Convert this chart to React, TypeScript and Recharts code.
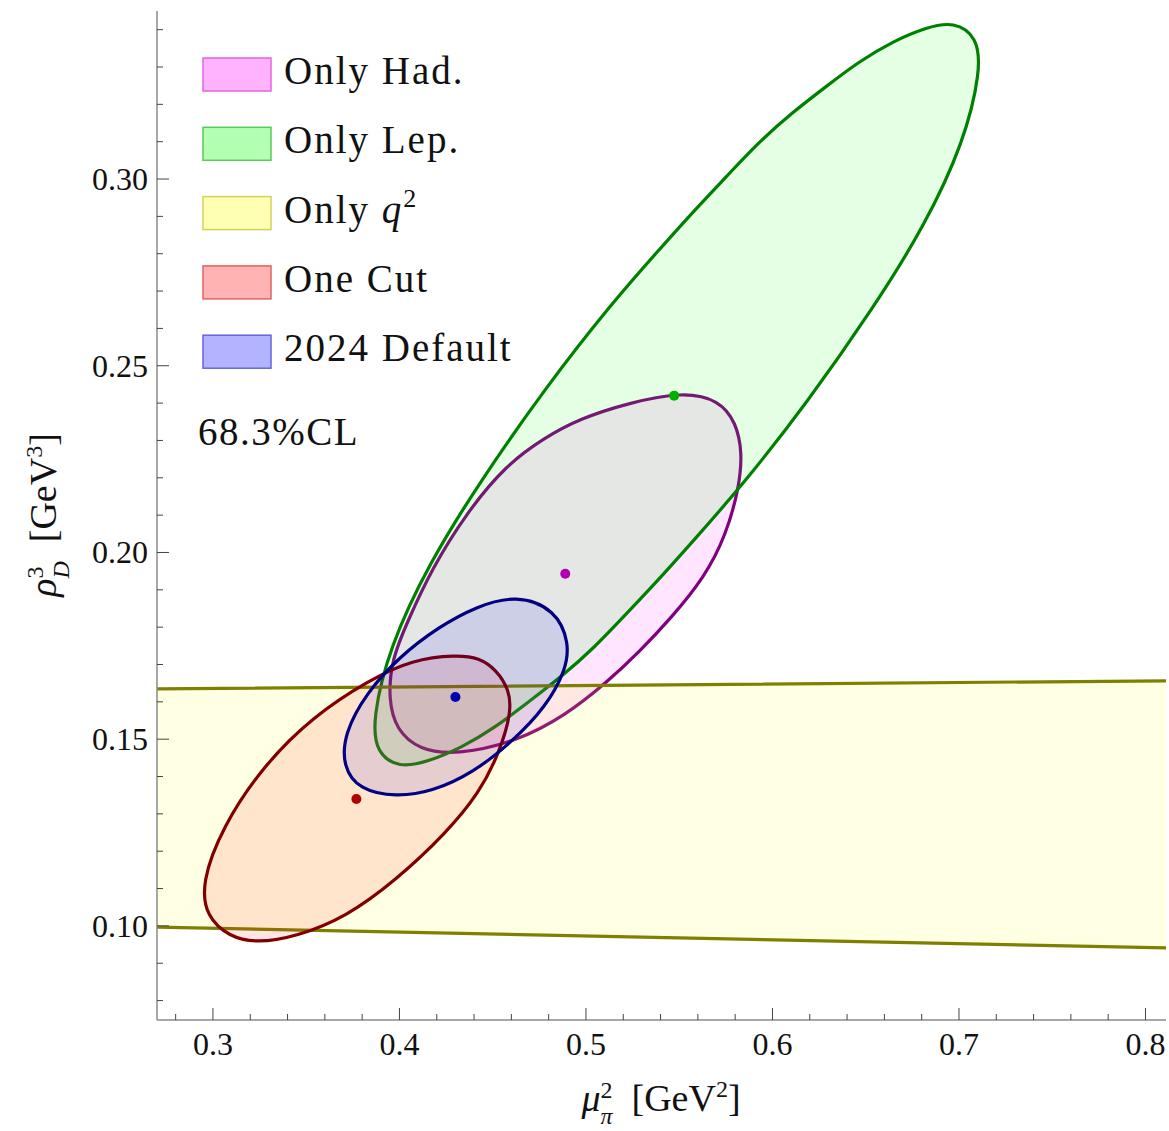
import React from "react";
import { ComposedChart, Line, Scatter, XAxis, YAxis } from "recharts";

// contour outlines, [mu_pi^2, rho_D^3], going round clockwise
const hadContour = [
  [0.5516, 0.243], [0.5714, 0.2409], [0.5806, 0.2347], [0.5838, 0.2267], [0.5822, 0.2176],
  [0.5752, 0.2047], [0.5634, 0.1932], [0.5457, 0.1825], [0.5286, 0.1734], [0.5109, 0.1651],
  [0.4894, 0.1565], [0.4627, 0.1493], [0.4305, 0.1458], [0.4107, 0.1471], [0.3983, 0.1525],
  [0.3941, 0.1605], [0.3957, 0.1713], [0.4048, 0.182], [0.4171, 0.1954], [0.4359, 0.2106],
  [0.4573, 0.2235], [0.4777, 0.2307], [0.4964, 0.2358], [0.5232, 0.2401],
];
const lepContour = [
  [0.6974, 0.3422], [0.7097, 0.3381], [0.7118, 0.3293], [0.7027, 0.3098], [0.6813, 0.2872],
  [0.6545, 0.2658], [0.6186, 0.2401], [0.5832, 0.2176], [0.558, 0.2034], [0.5404, 0.1935],
  [0.5221, 0.1838], [0.5045, 0.1745], [0.4868, 0.1667], [0.4685, 0.1597], [0.4509, 0.153],
  [0.4332, 0.1477], [0.415, 0.1439], [0.3999, 0.1423], [0.3876, 0.1463], [0.3855, 0.1552],
  [0.3946, 0.1747], [0.416, 0.1972], [0.4428, 0.2187], [0.4787, 0.2444], [0.5141, 0.2669],
  [0.5393, 0.2811], [0.557, 0.291], [0.5752, 0.3006], [0.5929, 0.31], [0.6106, 0.3178],
  [0.6288, 0.3248], [0.6465, 0.3315], [0.6642, 0.3368], [0.6824, 0.3406],
];
const q2Band = [[0.25, 0.1634], [0.83, 0.1657], [0.83, 0.0939], [0.25, 0.0999]];
const cutContour = [
  [0.4305, 0.1726], [0.4428, 0.1718], [0.4519, 0.1686], [0.4589, 0.1632], [0.46, 0.1571],
  [0.4535, 0.1463], [0.4428, 0.1356], [0.4251, 0.1249], [0.3983, 0.1123], [0.3715, 0.1024],
  [0.3447, 0.0971], [0.3233, 0.0954], [0.3088, 0.0971], [0.2965, 0.1024], [0.2938, 0.1115],
  [0.3051, 0.1265], [0.3265, 0.1426], [0.3533, 0.156], [0.3839, 0.1659], [0.4069, 0.1713],
];
const defContour = [
  [0.4625, 0.1887], [0.4839, 0.1847], [0.4911, 0.1757], [0.4893, 0.1686], [0.4786, 0.1587],
  [0.4607, 0.1494], [0.4392, 0.1409], [0.4178, 0.136], [0.3982, 0.1345], [0.3785, 0.1364],
  [0.3696, 0.1427], [0.3705, 0.1516], [0.3821, 0.1623], [0.3999, 0.1721], [0.4214, 0.1802],
  [0.4411, 0.1855],
];

// best-fit points
const lepBest = [0.5473, 0.242];
const hadBest = [0.4889, 0.1943];
const defBest = [0.43, 0.1613];
const cutBest = [0.3769, 0.134];

const xMajor = [0.3, 0.4, 0.5, 0.6, 0.7, 0.8];
const xTickLabels = ["0.3", "0.4", "0.5", "0.6", "0.7", "0.8"];
const xMinor = [0.28, 0.32, 0.34, 0.36, 0.38, 0.42, 0.44, 0.46, 0.48, 0.52, 0.54, 0.56, 0.58,
  0.62, 0.64, 0.66, 0.68, 0.72, 0.74, 0.76, 0.78];
const yMajor = [0.1, 0.15, 0.2, 0.25, 0.3];
const yTickLabels = ["0.10", "0.15", "0.20", "0.25", "0.30"];
const yMinor = [0.08, 0.09, 0.11, 0.12, 0.13, 0.14, 0.16, 0.17, 0.18, 0.19, 0.21, 0.22, 0.23,
  0.24, 0.26, 0.27, 0.28, 0.29, 0.31, 0.32, 0.33, 0.34];

const legendNames = ["Only Had.", "Only Lep.", "Only ", "One Cut", "2024 Default"];
const legendFill = ["#ffb3ff", "#b3ffb3", "#ffffb3", "#ffb3b3", "#b3b3ff"];
const legendEdge = ["#e066e0", "#5cc85c", "#d2d25a", "#e06464", "#6464e0"];

const xDomain = [0.27, 0.811];
const yDomain = [0.0748, 0.345];
const serif = "'Liberation Serif', 'Times New Roman', serif";
const frame = "#8a8a8a";
const tickColor = "#444";

const toRows = (pts: number[][]) => pts.map(([x, y]) => ({ x, y }));

const BottomTick = (props: any) => {
  const { x, y, payload } = props;
  const i = xMajor.indexOf(payload.value);
  const len = i >= 0 ? 12 : 6;
  return (
    <g>
      <line x1={x} y1={y} x2={x} y2={y - len} stroke={tickColor} strokeWidth={1} />
      {i >= 0 && (
        <text x={x} y={y + 35} textAnchor="middle" fontFamily={serif} fontSize={32} fill="#111">
          {xTickLabels[i]}
        </text>
      )}
    </g>
  );
};

const TopTick = (props: any) => {
  const { x, y, payload } = props;
  const len = xMajor.indexOf(payload.value) >= 0 ? 12 : 6;
  return <line x1={x} y1={y} x2={x} y2={y + len} stroke={tickColor} strokeWidth={1} />;
};

const LeftTick = (props: any) => {
  const { x, y, payload } = props;
  const i = yMajor.indexOf(payload.value);
  const len = i >= 0 ? 12 : 6;
  return (
    <g>
      <line x1={x} y1={y} x2={x + len} y2={y} stroke={tickColor} strokeWidth={1} />
      {i >= 0 && (
        <text x={x - 9} y={y + 11} textAnchor="end" fontFamily={serif} fontSize={32} fill="#111">
          {yTickLabels[i]}
        </text>
      )}
    </g>
  );
};

const RightTick = (props: any) => {
  const { x, y, payload } = props;
  const len = yMajor.indexOf(payload.value) >= 0 ? 12 : 6;
  return <line x1={x} y1={y} x2={x - len} y2={y} stroke={tickColor} strokeWidth={1} />;
};

const XTitle = () => (
  <text x={661} y={1111} textAnchor="middle" fontFamily={serif} fontSize={38} fill="#111">
    <tspan fontStyle="italic">μ</tspan>
    <tspan fontSize={24} dy={-13}>2</tspan>
    <tspan fontSize={24} fontStyle="italic" dx={-12} dy={26}>π</tspan>
    <tspan dy={-13}>{"\u2002[GeV"}</tspan>
    <tspan fontSize={24} dy={-14}>2</tspan>
    <tspan dy={14}>]</tspan>
  </text>
);

const YTitle = () => (
  <text x={56} y={515} transform="rotate(-90 56 515)" textAnchor="middle" fontFamily={serif} fontSize={38} fill="#111">
    <tspan fontStyle="italic">ρ</tspan>
    <tspan fontSize={24} dy={-13}>3</tspan>
    <tspan fontSize={24} fontStyle="italic" dx={-12} dy={26}>D</tspan>
    <tspan dy={-13}>{"\u2002[GeV"}</tspan>
    <tspan fontSize={24} dy={-14}>3</tspan>
    <tspan dy={14}>]</tspan>
  </text>
);

const dot = (color: string) => (p: any) => <circle cx={p.cx} cy={p.cy} r={5} fill={color} />;

const contourProps = {
  xAxisId: "x",
  yAxisId: "y",
  dataKey: "y",
  dot: false,
  activeDot: false,
  strokeWidth: 3.2,
  isAnimationActive: false,
};

export default function App() {
  return (
    <div style={{ position: "relative", width: 1169, height: 1131, background: "#fff" }}>
      <style>{`
        body { margin: 0; }
        .c-had .recharts-line-curve { fill: rgba(255, 0, 255, 0.1); }
        .c-lep .recharts-line-curve { fill: rgba(0, 255, 0, 0.1); }
        .c-q2 .recharts-line-curve { fill: rgba(255, 255, 0, 0.11); }
        .c-cut .recharts-line-curve { fill: rgba(255, 0, 0, 0.1); }
        .c-def .recharts-line-curve { fill: rgba(0, 0, 255, 0.1); }
      `}</style>
      <ComposedChart width={1169} height={1131} margin={{ top: 11, right: 3, left: 77, bottom: 31 }}>
        <XAxis
          xAxisId="x"
          type="number"
          dataKey="x"
          domain={xDomain}
          allowDataOverflow
          ticks={[...xMinor, ...xMajor]}
          interval={0}
          tick={(p: any) => <BottomTick {...p} />}
          tickLine={false}
          tickSize={0}
          tickMargin={0}
          axisLine={{ stroke: frame, strokeWidth: 1.5 }}
          height={80}
          label={<XTitle />}
        />
        <XAxis
          xAxisId="top"
          orientation="top"
          type="number"
          dataKey="x"
          domain={xDomain}
          allowDataOverflow
          ticks={[...xMinor, ...xMajor]}
          interval={0}
          tick={(p: any) => <TopTick {...p} />}
          tickLine={false}
          tickSize={0}
          tickMargin={0}
          axisLine={{ stroke: frame, strokeWidth: 1.5 }}
          height={0}
        />
        <YAxis
          yAxisId="y"
          type="number"
          dataKey="y"
          domain={yDomain}
          allowDataOverflow
          ticks={[...yMinor, ...yMajor]}
          interval={0}
          tick={(p: any) => <LeftTick {...p} />}
          tickLine={false}
          tickSize={0}
          tickMargin={0}
          axisLine={{ stroke: frame, strokeWidth: 1.5 }}
          width={80}
          label={<YTitle />}
        />
        <YAxis
          yAxisId="right"
          orientation="right"
          type="number"
          dataKey="y"
          domain={yDomain}
          allowDataOverflow
          ticks={[...yMinor, ...yMajor]}
          interval={0}
          tick={(p: any) => <RightTick {...p} />}
          tickLine={false}
          tickSize={0}
          tickMargin={0}
          axisLine={{ stroke: frame, strokeWidth: 1.5 }}
          width={0}
        />

        <Line {...contourProps} className="c-had" data={toRows(hadContour)} type="basisClosed" stroke="#800080" />
        <Line {...contourProps} className="c-lep" data={toRows(lepContour)} type="basisClosed" stroke="#008000" />
        <Line {...contourProps} className="c-q2" data={toRows(q2Band)} type="linearClosed" stroke="#808000" />
        <Line {...contourProps} className="c-cut" data={toRows(cutContour)} type="basisClosed" stroke="#800000" />
        <Line {...contourProps} className="c-def" data={toRows(defContour)} type="basisClosed" stroke="#000080" />

        <Scatter xAxisId="x" yAxisId="y" data={toRows([lepBest])} shape={dot("#00b000")} isAnimationActive={false} />
        <Scatter xAxisId="x" yAxisId="y" data={toRows([hadBest])} shape={dot("#b000b0")} isAnimationActive={false} />
        <Scatter xAxisId="x" yAxisId="y" data={toRows([defBest])} shape={dot("#0000b0")} isAnimationActive={false} />
        <Scatter xAxisId="x" yAxisId="y" data={toRows([cutBest])} shape={dot("#b00000")} isAnimationActive={false} />
      </ComposedChart>

      <svg width={600} height={480} style={{ position: "absolute", left: 0, top: 0, pointerEvents: "none" }}>
        {legendNames.map((name, i) => (
          <g key={name}>
            <rect x={203} y={58 + 69.3 * i} width={68} height={33} fill={legendFill[i]} stroke={legendEdge[i]} strokeWidth={1.5} />
            <text x={284} y={84 + 69.3 * i} fontFamily={serif} fontSize={39} letterSpacing={2} fill="#111">
              {name}
              {i === 2 && <tspan fontStyle="italic">q</tspan>}
              {i === 2 && <tspan fontSize={26} dy={-16}>2</tspan>}
            </text>
          </g>
        ))}
        <text x={198} y={445} fontFamily={serif} fontSize={39} letterSpacing={1.5} fill="#111">
          68.3%CL
        </text>
      </svg>
    </div>
  );
}
